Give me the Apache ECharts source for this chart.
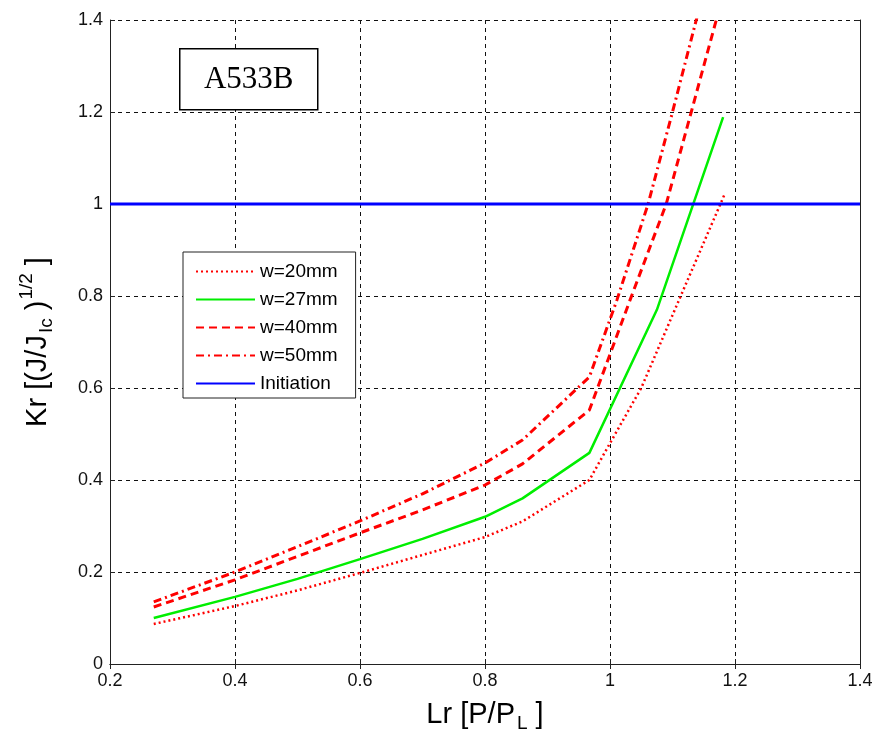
<!DOCTYPE html>
<html>
<head>
<meta charset="utf-8">
<script src="https://cdn.jsdelivr.net/npm/echarts@6/dist/echarts.min.js"></script>
<style>html,body{margin:0;padding:0;background:#fff}#c{width:876px;height:742px}</style>
</head>
<body>
<div id="c"></div>
<script>
// Data
const w20_x = [0.27, 0.40, 0.50, 0.60, 0.70, 0.80, 0.86, 0.967, 1.00, 1.05, 1.11, 1.183];
const w20_y = [0.087, 0.126, 0.160, 0.198, 0.237, 0.276, 0.310, 0.400, 0.480, 0.600, 0.790, 1.020];
const w27_x = [0.27, 0.40, 0.50, 0.60, 0.70, 0.80, 0.86, 0.967, 1.075, 1.181];
const w27_y = [0.100, 0.146, 0.185, 0.228, 0.272, 0.320, 0.360, 0.459, 0.770, 1.189];
const w40_x = [0.27, 0.40, 0.50, 0.60, 0.70, 0.80, 0.86, 0.967, 1.032, 1.09, 1.13, 1.17, 1.18];
const w40_y = [0.124, 0.183, 0.234, 0.285, 0.335, 0.389, 0.435, 0.552, 0.791, 1.000, 1.200, 1.400, 1.450];
const w50_x = [0.27, 0.40, 0.50, 0.60, 0.70, 0.80, 0.86, 0.967, 1.011, 1.061, 1.10, 1.138, 1.18];
const w50_y = [0.135, 0.200, 0.255, 0.311, 0.370, 0.437, 0.487, 0.624, 0.791, 1.000, 1.200, 1.400, 1.620];
const init_x = [0.2, 1.4];
const init_y = [1.0, 1.0];
const seriesNames = ['w=20mm', 'w=27mm', 'w=40mm', 'w=50mm', 'Initiation'];

const pairs = (xs, ys) => xs.map((x, i) => [x, ys[i]]);

const chart = echarts.init(document.getElementById('c'));
const axisLine = {show: true, lineStyle: {color: '#222', width: 1}};
const tick = {show: true, inside: true, length: 5, lineStyle: {color: '#222'}};
const grid = {show: true, lineStyle: {color: '#111', type: [4, 4], width: 1}};
const lbl = {color: '#111', fontFamily: 'Liberation Sans, Arial', fontSize: 18};
const FF = 'Liberation Sans, Arial';

chart.setOption({
  animation: false,
  backgroundColor: '#fff',
  grid: {left: 110, right: 16, top: 20, bottom: 78, containLabel: false},
  xAxis: [{
    type: 'value', min: 0.2, max: 1.4, interval: 0.2, position: 'bottom',
    axisLine: axisLine, axisTick: tick, splitLine: grid,
    axisLabel: Object.assign({margin: 8, formatter: v => +v.toFixed(1) + ''}, lbl),
    name: '{a|Lr [P/P}{sub|L}{a| ]}', nameLocation: 'middle', nameGap: 32,
    nameTextStyle: {rich: {
      a: {fontFamily: FF, fontSize: 29, color: '#000'},
      sub: {fontFamily: FF, fontSize: 19, color: '#000', padding: [18, 0, 0, 2]}
    }}
  }, {
    type: 'value', min: 0.2, max: 1.4, interval: 0.2, position: 'top',
    axisLine: axisLine, axisTick: tick, splitLine: {show: false}, axisLabel: {show: false}
  }],
  yAxis: [{
    type: 'value', min: 0, max: 1.4, interval: 0.2, position: 'left',
    axisLine: axisLine, axisTick: tick, splitLine: grid,
    axisLabel: Object.assign({margin: 7, formatter: v => +v.toFixed(1) + ''}, lbl),
    name: '{a|Kr [(J/J}{sub|Ic}{a| )}{sup|1/2}{a| ]}', nameLocation: 'middle', nameRotate: 90, nameGap: 52,
    nameTextStyle: {rich: {
      a: {fontFamily: FF, fontSize: 29, color: '#000'},
      sub: {fontFamily: FF, fontSize: 19, color: '#000', padding: [18, 0, 0, 2]},
      sup: {fontFamily: FF, fontSize: 19, color: '#000', padding: [0, 0, 22, 1]}
    }}
  }, {
    type: 'value', min: 0, max: 1.4, interval: 0.2, position: 'right',
    axisLine: axisLine, axisTick: tick, splitLine: {show: false}, axisLabel: {show: false}
  }],
  legend: {
    data: seriesNames, orient: 'vertical', left: 183, top: 252,
    backgroundColor: '#fff', borderColor: '#222', borderWidth: 1,
    padding: [10, 18, 5, 12], itemGap: 9, itemWidth: 59, itemHeight: 14,
    itemStyle: {opacity: 0},
    textStyle: {fontFamily: FF, fontSize: 19, color: '#000'}
  },
  graphic: [{
    type: 'group', left: 179, top: 48, z: 100,
    children: [
      {type: 'rect', z: 100, shape: {x: 0, y: 0, width: 138, height: 61}, style: {fill: '#fff', stroke: '#000', lineWidth: 1.5}},
      {type: 'text', z: 101, x: 69, y: 31, style: {text: 'A533B', fill: '#000', font: '31px "Liberation Serif", "Times New Roman", serif', textAlign: 'center', textVerticalAlign: 'middle'}}
    ]
  }],
  series: [
    {name: seriesNames[0], type: 'line', symbol: 'none', clip: true, data: pairs(w20_x, w20_y),
      lineStyle: {color: '#ff0000', width: 2.5, type: [2, 3]}, itemStyle: {color: '#ff0000'}},
    {name: seriesNames[1], type: 'line', symbol: 'none', clip: true, data: pairs(w27_x, w27_y),
      lineStyle: {color: '#00ee00', width: 2.5, type: 'solid'}, itemStyle: {color: '#00ee00'}},
    {name: seriesNames[2], type: 'line', symbol: 'none', clip: true, data: pairs(w40_x, w40_y),
      lineStyle: {color: '#ff0000', width: 3, type: [8, 5]}, itemStyle: {color: '#ff0000'}},
    {name: seriesNames[3], type: 'line', symbol: 'none', clip: true, data: pairs(w50_x, w50_y),
      lineStyle: {color: '#ff0000', width: 3, type: [8, 4, 2, 4]}, itemStyle: {color: '#ff0000'}},
    {name: seriesNames[4], type: 'line', symbol: 'none', clip: true, data: pairs(init_x, init_y),
      lineStyle: {color: '#0000ff', width: 3, type: 'solid'}, itemStyle: {color: '#0000ff'}}
  ]
});
</script>
</body>
</html>
